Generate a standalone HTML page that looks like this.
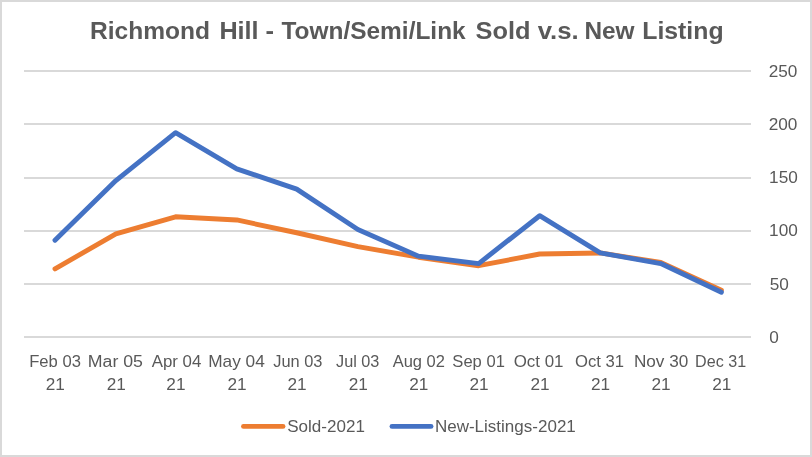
<!DOCTYPE html>
<html><head><meta charset="utf-8"><title>Richmond Hill - Town/Semi/Link Sold v.s. New Listing</title>
<style>
html,body{margin:0;padding:0;background:#fff;}
body{width:812px;height:457px;overflow:hidden;}
svg{display:block;}
text{font-family:"Liberation Sans",sans-serif;fill:#595959;}
.t{font-weight:bold;font-size:24.4px;}
.a{font-size:16.4px;}
</style></head><body>
<svg width="812" height="457" viewBox="0 0 812 457">
<rect x="0" y="0" width="812" height="457" fill="#ffffff"/>
<rect x="1" y="1" width="810" height="455" fill="none" stroke="#d9d9d9" stroke-width="2"/>

<rect x="24" y="70" width="727" height="2" fill="#d9d9d9"/>
<rect x="24" y="123" width="727" height="2" fill="#d9d9d9"/>
<rect x="24" y="177" width="727" height="2" fill="#d9d9d9"/>
<rect x="24" y="230" width="727" height="2" fill="#d9d9d9"/>
<rect x="24" y="283" width="727" height="2" fill="#d9d9d9"/>
<rect x="24" y="336" width="727" height="2" fill="#d9d9d9"/>
<polyline points="55.00,268.90 115.88,233.79 175.56,216.77 236.74,219.96 296.72,232.73 357.90,246.56 418.48,257.20 478.66,265.71 539.64,254.01 600.22,252.94 660.80,262.52 721.38,290.18" fill="none" stroke="#ed7d31" stroke-width="4.9" stroke-linecap="round" stroke-linejoin="round"/>
<polyline points="55.00,240.18 115.88,180.59 175.56,132.71 236.74,168.89 296.72,189.10 357.90,229.54 418.48,256.14 478.66,263.58 539.64,215.70 600.22,252.94 660.80,263.58 721.38,292.31" fill="none" stroke="#4472c4" stroke-width="4.9" stroke-linecap="round" stroke-linejoin="round"/>
<text class="a" transform="translate(29.22,366.60) scale(1.0136,1)">Feb 03</text>
<text class="a" transform="translate(87.74,366.60) scale(1.0832,1)">Mar 05</text>
<text class="a" transform="translate(151.69,366.60) scale(1.0283,1)">Apr 04</text>
<text class="a" transform="translate(208.18,366.60) scale(1.0533,1)">May 04</text>
<text class="a" transform="translate(273.20,366.60) scale(1.0000,1)">Jun 03</text>
<text class="a" transform="translate(336.00,366.60) scale(0.9924,1)">Jul 03</text>
<text class="a" transform="translate(392.69,366.60) scale(1.0060,1)">Aug 02</text>
<text class="a" transform="translate(452.37,366.60) scale(1.0103,1)">Sep 01</text>
<text class="a" transform="translate(513.67,366.60) scale(1.0323,1)">Oct 01</text>
<text class="a" transform="translate(574.98,366.60) scale(1.0152,1)">Oct 31</text>
<text class="a" transform="translate(633.88,366.60) scale(1.0474,1)">Nov 30</text>
<text class="a" transform="translate(695.06,366.60) scale(0.9832,1)">Dec 31</text>
<text class="a" transform="translate(45.75,389.90) scale(1.0500,1)">21</text>
<text class="a" transform="translate(106.63,389.90) scale(1.0500,1)">21</text>
<text class="a" transform="translate(166.31,389.90) scale(1.0500,1)">21</text>
<text class="a" transform="translate(227.49,389.90) scale(1.0500,1)">21</text>
<text class="a" transform="translate(287.47,389.90) scale(1.0500,1)">21</text>
<text class="a" transform="translate(348.65,389.90) scale(1.0500,1)">21</text>
<text class="a" transform="translate(409.23,389.90) scale(1.0500,1)">21</text>
<text class="a" transform="translate(469.41,389.90) scale(1.0500,1)">21</text>
<text class="a" transform="translate(530.39,389.90) scale(1.0500,1)">21</text>
<text class="a" transform="translate(590.97,389.90) scale(1.0500,1)">21</text>
<text class="a" transform="translate(651.55,389.90) scale(1.0500,1)">21</text>
<text class="a" transform="translate(712.13,389.90) scale(1.0500,1)">21</text>
<text class="a" transform="translate(768.68,76.90) scale(1.0500,1)">250</text>
<text class="a" transform="translate(768.68,129.90) scale(1.0500,1)">200</text>
<text class="a" transform="translate(769.12,183.10) scale(1.0500,1)">150</text>
<text class="a" transform="translate(769.12,236.10) scale(1.0500,1)">100</text>
<text class="a" transform="translate(769.65,289.90) scale(1.0500,1)">50</text>
<text class="a" transform="translate(769.32,342.90) scale(1.0500,1)">0</text>
<text class="a" transform="translate(287.24,431.80) scale(1.0398,1)">Sold-2021</text>
<text class="a" transform="translate(434.89,431.80) scale(1.0386,1)">New-Listings-2021</text>
<text class="t" y="38.5"><tspan x="89.99" textLength="120.11" lengthAdjust="spacingAndGlyphs">Richmond</tspan> <tspan x="219.44" textLength="39.18" lengthAdjust="spacingAndGlyphs">Hill</tspan> <tspan x="265.45" textLength="8.53" lengthAdjust="spacingAndGlyphs">-</tspan> <tspan x="281.46" textLength="184.22" lengthAdjust="spacingAndGlyphs">Town/Semi/Link</tspan> <tspan x="475.59" textLength="54.92" lengthAdjust="spacingAndGlyphs">Sold</tspan> <tspan x="537.66" textLength="41.01" lengthAdjust="spacingAndGlyphs">v.s.</tspan> <tspan x="584.40" textLength="50.16" lengthAdjust="spacingAndGlyphs">New</tspan> <tspan x="642.27" textLength="81.30" lengthAdjust="spacingAndGlyphs">Listing</tspan></text>
<line x1="243.5" x2="283" y1="426.4" y2="426.4" stroke="#ed7d31" stroke-width="4.9" stroke-linecap="round"/>
<line x1="392" x2="431" y1="426.4" y2="426.4" stroke="#4472c4" stroke-width="4.9" stroke-linecap="round"/>
</svg></body></html>
